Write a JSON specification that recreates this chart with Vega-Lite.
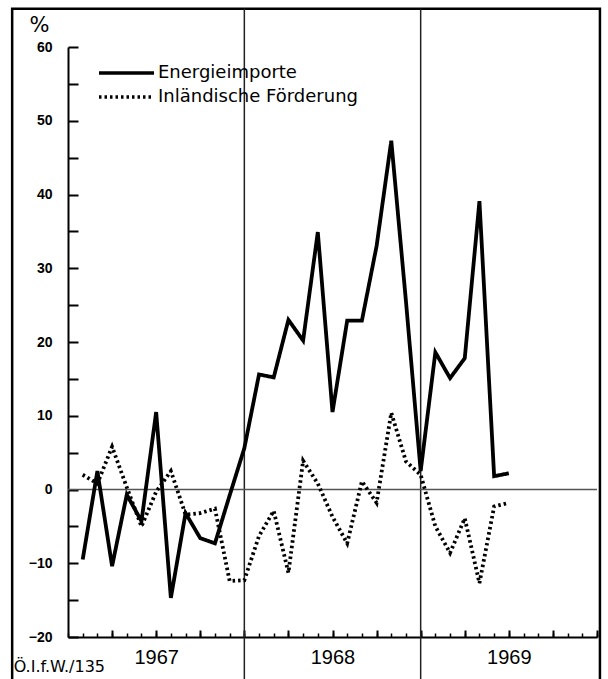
{
  "$schema": "https://vega.github.io/schema/vega-lite/v6.json",
  "width": 529,
  "height": 590,
  "autosize": {"type": "none"},
  "padding": {"left": 68, "top": 47, "right": 11, "bottom": 42},
  "background": "white",
  "config": {"view": {"stroke": null}, "axis": {"grid": false}},
  "resolve": {"axis": {"x": "independent", "y": "independent"}},
  "layer": [
    {
      "data": {"values": [{"frame": "outer"}]},
      "mark": {"type": "rect", "filled": false, "color": "black", "strokeWidth": 2.5, "clip": false},
      "encoding": {
        "x": {"datum": -3.8, "type": "quantitative", "scale": {"domain": [0, 36], "nice": false, "zero": false},
          "axis": {"orient": "bottom", "values": [0,1,2,3,4,5,6,7,8,9,10,11,12,13,14,15,16,17,18,19,20,21,22,23,24,25,26,27,28,29,30,31,32,33,34,35,36],
            "labels": false, "tickSize": -4, "tickWidth": 1.5, "tickColor": "black", "domainColor": "black", "domainWidth": 2, "title": null}},
        "x2": {"datum": 36.2},
        "y": {"datum": 65.2, "type": "quantitative", "scale": {"domain": [-20, 60], "nice": false, "zero": false},
          "axis": {"orient": "left", "values": [-20,-15,-10,-5,0,5,10,15,20,25,30,35,40,45,50,55,60],
            "labelExpr": "datum.value % 10 == 0 ? datum.label : ''",
            "tickSize": -10, "tickWidth": 2, "tickColor": "black", "domainColor": "black", "domainWidth": 2,
            "labelFont": "Liberation Sans", "labelFontWeight": "bold", "labelFontSize": 14, "labelColor": "black", "labelPadding": 26,
            "title": "%", "titleAngle": 0, "titleX": -29, "titleY": -16, "titleAlign": "center", "titleBaseline": "alphabetic",
            "titleFont": "DejaVu Sans", "titleFontSize": 21, "titleFontWeight": "normal", "titleColor": "black"}},
        "y2": {"datum": -27}
      }
    },
    {
      "data": {"values": [{"m": 12}, {"m": 24}]},
      "mark": {"type": "rule", "color": "#222", "strokeWidth": 1.5},
      "encoding": {
        "x": {"field": "m", "type": "quantitative", "scale": {"domain": [0, 36], "nice": false, "zero": false},
          "axis": {"orient": "bottom", "values": [3,6,9,12,15,18,21,24,27,30,33,36], "labels": false, "domain": false,
            "tickSize": -7, "tickWidth": 2, "tickColor": "black", "title": null}},
        "y": {"datum": 65.2, "type": "quantitative", "scale": {"domain": [-20, 60], "nice": false, "zero": false}, "axis": null},
        "y2": {"datum": -27}
      }
    },
    {
      "data": {"values": [{"line": "zero"}]},
      "mark": {"type": "rule", "color": "#555", "strokeWidth": 1.5},
      "encoding": {
        "x": {"datum": 0, "type": "quantitative", "scale": {"domain": [0, 36], "nice": false, "zero": false},
          "axis": {"orient": "bottom", "values": [6, 18, 30], "ticks": false, "domain": false,
            "labelExpr": "datum.value == 6 ? '1967' : datum.value == 18 ? '1968' : '1969'",
            "labelFont": "Liberation Sans", "labelFontSize": 20, "labelColor": "black", "labelPadding": 10, "title": null}},
        "x2": {"datum": 36},
        "y": {"datum": 0, "type": "quantitative", "scale": {"domain": [-20, 60], "nice": false, "zero": false}, "axis": null}
      }
    },
    {
      "data": {"values": [
        {"m": 1, "v": -9.5, "series": "Energieimporte"},
        {"m": 2, "v": 2.5, "series": "Energieimporte"},
        {"m": 3, "v": -10.4, "series": "Energieimporte"},
        {"m": 4, "v": -0.7, "series": "Energieimporte"},
        {"m": 5, "v": -4.3, "series": "Energieimporte"},
        {"m": 6, "v": 10.5, "series": "Energieimporte"},
        {"m": 7, "v": -14.7, "series": "Energieimporte"},
        {"m": 8, "v": -3.2, "series": "Energieimporte"},
        {"m": 9, "v": -6.6, "series": "Energieimporte"},
        {"m": 10, "v": -7.3, "series": "Energieimporte"},
        {"m": 11, "v": -0.8, "series": "Energieimporte"},
        {"m": 12, "v": 5.6, "series": "Energieimporte"},
        {"m": 13, "v": 15.6, "series": "Energieimporte"},
        {"m": 14, "v": 15.2, "series": "Energieimporte"},
        {"m": 15, "v": 23.0, "series": "Energieimporte"},
        {"m": 16, "v": 20.2, "series": "Energieimporte"},
        {"m": 17, "v": 34.9, "series": "Energieimporte"},
        {"m": 18, "v": 10.5, "series": "Energieimporte"},
        {"m": 19, "v": 22.9, "series": "Energieimporte"},
        {"m": 20, "v": 22.9, "series": "Energieimporte"},
        {"m": 21, "v": 33.0, "series": "Energieimporte"},
        {"m": 22, "v": 47.3, "series": "Energieimporte"},
        {"m": 23, "v": 25.5, "series": "Energieimporte"},
        {"m": 24, "v": 2.5, "series": "Energieimporte"},
        {"m": 25, "v": 18.6, "series": "Energieimporte"},
        {"m": 26, "v": 15.1, "series": "Energieimporte"},
        {"m": 27, "v": 17.8, "series": "Energieimporte"},
        {"m": 28, "v": 39.1, "series": "Energieimporte"},
        {"m": 29, "v": 1.8, "series": "Energieimporte"},
        {"m": 30, "v": 2.2, "series": "Energieimporte"},
        {"m": 1, "v": 2.0, "series": "Inländische Förderung"},
        {"m": 2, "v": 0.8, "series": "Inländische Förderung"},
        {"m": 3, "v": 5.8, "series": "Inländische Förderung"},
        {"m": 4, "v": 0.3, "series": "Inländische Förderung"},
        {"m": 5, "v": -5.0, "series": "Inländische Förderung"},
        {"m": 6, "v": -0.3, "series": "Inländische Förderung"},
        {"m": 7, "v": 2.5, "series": "Inländische Förderung"},
        {"m": 8, "v": -3.4, "series": "Inländische Förderung"},
        {"m": 9, "v": -3.2, "series": "Inländische Förderung"},
        {"m": 10, "v": -2.6, "series": "Inländische Förderung"},
        {"m": 11, "v": -12.4, "series": "Inländische Förderung"},
        {"m": 12, "v": -12.3, "series": "Inländische Förderung"},
        {"m": 13, "v": -6.3, "series": "Inländische Förderung"},
        {"m": 14, "v": -2.9, "series": "Inländische Förderung"},
        {"m": 15, "v": -11.3, "series": "Inländische Förderung"},
        {"m": 16, "v": 3.9, "series": "Inländische Förderung"},
        {"m": 17, "v": 0.8, "series": "Inländische Förderung"},
        {"m": 18, "v": -3.7, "series": "Inländische Förderung"},
        {"m": 19, "v": -7.3, "series": "Inländische Förderung"},
        {"m": 20, "v": 1.1, "series": "Inländische Förderung"},
        {"m": 21, "v": -1.8, "series": "Inländische Förderung"},
        {"m": 22, "v": 10.4, "series": "Inländische Förderung"},
        {"m": 23, "v": 3.8, "series": "Inländische Förderung"},
        {"m": 24, "v": 2.0, "series": "Inländische Förderung"},
        {"m": 25, "v": -5.0, "series": "Inländische Förderung"},
        {"m": 26, "v": -8.6, "series": "Inländische Förderung"},
        {"m": 27, "v": -3.9, "series": "Inländische Förderung"},
        {"m": 28, "v": -12.7, "series": "Inländische Förderung"},
        {"m": 29, "v": -2.3, "series": "Inländische Förderung"},
        {"m": 30, "v": -1.8, "series": "Inländische Förderung"}
      ]},
      "mark": {"type": "line", "color": "black", "strokeWidth": 3.8},
      "encoding": {
        "x": {"field": "m", "type": "quantitative", "scale": {"domain": [0, 36], "nice": false, "zero": false}, "axis": null},
        "y": {"field": "v", "type": "quantitative", "scale": {"domain": [-20, 60], "nice": false, "zero": false}, "axis": null},
        "strokeDash": {"field": "series", "type": "nominal",
          "scale": {"domain": ["Energieimporte", "Inländische Förderung"], "range": [[1, 0], [2.5, 3]]},
          "legend": {"title": null, "orient": "none", "legendX": 29, "legendY": 14, "symbolType": "stroke", "symbolSize": 3025,
            "symbolStrokeWidth": 3.5, "symbolStrokeColor": "black", "clipHeight": 24, "padding": 0, "rowPadding": 0,
            "labelFont": "DejaVu Sans", "labelFontSize": 18, "labelColor": "black", "labelOffset": 2, "labelLimit": 400}}
      }
    },
    {
      "data": {"values": [{"note": "Ö.I.f.W./135"}]},
      "mark": {"type": "text", "align": "left", "baseline": "alphabetic", "font": "DejaVu Sans", "fontSize": 16, "color": "black", "clip": false},
      "encoding": {
        "text": {"field": "note", "type": "nominal"},
        "x": {"datum": -3.7, "type": "quantitative", "scale": {"domain": [0, 36], "nice": false, "zero": false}, "axis": null},
        "y": {"datum": -24.8, "type": "quantitative", "scale": {"domain": [-20, 60], "nice": false, "zero": false}, "axis": null}
      }
    }
  ]
}
